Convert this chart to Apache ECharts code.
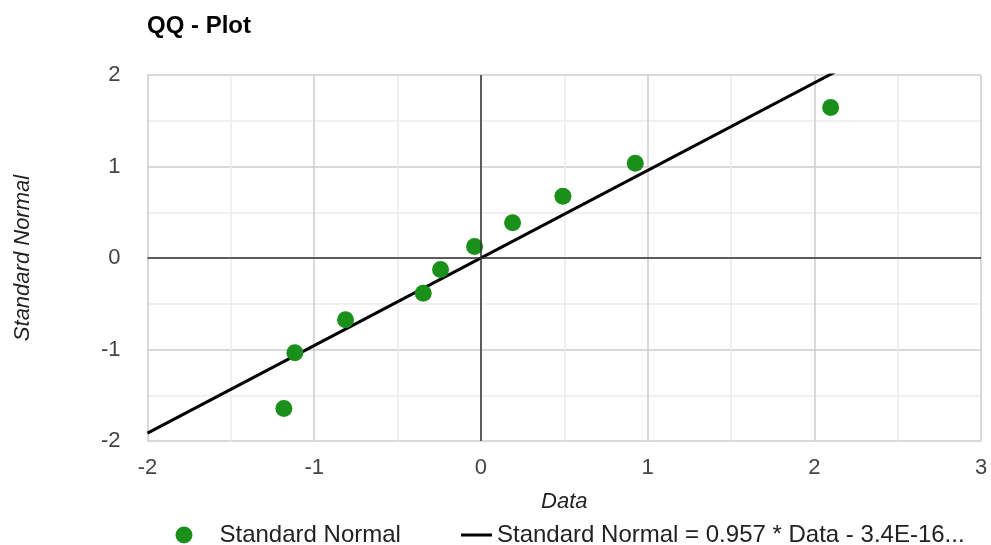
<!DOCTYPE html>
<html>
<head>
<meta charset="utf-8">
<script src="https://cdn.jsdelivr.net/npm/echarts@6/dist/echarts.min.js"></script>
<style>html,body{margin:0;padding:0;background:#fff}#c{width:991px;height:545px}</style>
</head>
<body>
<div id="c"></div>
<script>
const dataX = [-1.182, -1.116, -0.812, -0.346, -0.242, -0.038, 0.19, 0.492, 0.926, 2.098];
const normalY = [-1.645, -1.036, -0.674, -0.385, -0.126, 0.126, 0.385, 0.674, 1.036, 1.645];
const trendX = [-2, 3];
const trendY = [-1.914, 2.871];
const xTicks = [-2, -1, 0, 1, 2, 3];
const yTicks = [-2, -1, 0, 1, 2];
const scatterName = 'Standard Normal';
const trendName = 'Standard Normal = 0.957 * Data - 3.4E-16...';

const font = 'Arial, "Liberation Sans", sans-serif';
const chart = echarts.init(document.getElementById('c'));
chart.setOption({
  animation: false,
  title: {
    text: 'QQ - Plot', left: 142, top: 9,
    textStyle: {fontFamily: font, fontSize: 24, fontWeight: 'bold', color: '#000'}
  },
  grid: {left: 147.5, right: 10, top: 75, bottom: 104, containLabel: false},
  legend: [{
    data: [{name: scatterName, icon: 'circle'}],
    left: 170.5, top: 518, itemWidth: 17, itemHeight: 17,
    textStyle: {fontFamily: font, fontSize: 24, color: '#222', padding: [0, 0, 0, 22]}
  }, {
    data: [{name: trendName, icon: 'rect'}],
    left: 456, top: 518, itemWidth: 31, itemHeight: 3,
    textStyle: {fontFamily: font, fontSize: 24, color: '#222'}
  }],
  xAxis: {
    type: 'value', min: xTicks[0], max: xTicks[xTicks.length - 1], interval: 1,
    name: 'Data', nameLocation: 'middle', nameGap: 50,
    nameTextStyle: {fontFamily: font, fontSize: 22, fontStyle: 'italic', color: '#222'},
    axisLine: {show: false}, axisTick: {show: false},
    axisLabel: {fontFamily: font, fontSize: 22, color: '#444', margin: 16},
    splitLine: {show: true, lineStyle: {color: '#cccccc', width: 1.5}},
    minorTick: {show: false, splitNumber: 2},
    minorSplitLine: {show: true, lineStyle: {color: '#ebebeb', width: 1.5}}
  },
  yAxis: {
    type: 'value', min: yTicks[0], max: yTicks[yTicks.length - 1], interval: 1,
    name: 'Standard Normal', nameLocation: 'middle', nameGap: 114,
    nameTextStyle: {fontFamily: font, fontSize: 22, fontStyle: 'italic', color: '#222'},
    axisLine: {show: false}, axisTick: {show: false},
    axisLabel: {fontFamily: font, fontSize: 22, color: '#444', margin: 27},
    splitLine: {show: true, lineStyle: {color: '#cccccc', width: 1.5}},
    minorTick: {show: false, splitNumber: 2},
    minorSplitLine: {show: true, lineStyle: {color: '#ebebeb', width: 1.5}}
  },
  series: [{
    name: 'zero', type: 'line', data: [], z: 1, silent: true,
    markLine: {
      silent: true, symbol: 'none', label: {show: false},
      lineStyle: {color: '#333', width: 1.5, type: 'solid'},
      data: [{xAxis: 0}, {yAxis: 0}]
    }
  }, {
    name: trendName, type: 'line', z: 2, symbol: 'none', clip: true,
    data: trendX.map((x, i) => [x, trendY[i]]),
    lineStyle: {color: '#000', width: 3}, itemStyle: {color: '#000'}
  }, {
    name: scatterName, type: 'scatter', z: 3, symbolSize: 17,
    data: dataX.map((x, i) => [x, normalY[i]]),
    itemStyle: {color: '#1a8f1a', opacity: 1}
  }]
});
</script>
</body>
</html>
